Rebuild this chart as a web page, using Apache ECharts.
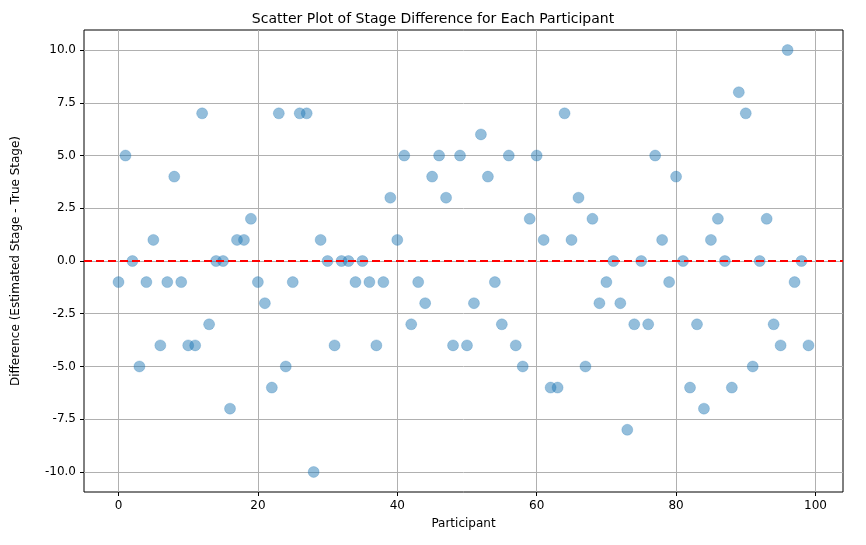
<!DOCTYPE html>
<html>
<head>
<meta charset="utf-8">
<style>html,body{margin:0;padding:0;width:866px;height:545px;background:#fff}#main{width:866px;height:545px}</style>
<script src="https://cdn.jsdelivr.net/npm/echarts@6/dist/echarts.min.js"></script>
</head>
<body>
<div id="main"></div>
<script>
var diffs = [-1,5,0,-5,-1,1,-4,-1,4,-1, -4,-4,7,-3,0,0,-7,1,1,2,
  -1,-2,-6,7,-5,-1,7,7,-10,1, 0,-4,0,0,-1,0,-1,-4,-1,3,
  1,5,-3,-1,-2,4,5,3,-4,5, -4,-2,6,4,-1,-3,5,-4,-5,2,
  5,1,-6,-6,7,1,3,-5,2,-2, -1,0,-2,-8,-3,0,-3,5,1,-1,
  4,0,-6,-3,-7,1,2,0,-6,8, 7,-5,0,2,-3,-4,10,-1,0,-4];
var xTicks = [0,20,40,60,80,100];
var yTicks = [-10,-7.5,-5,-2.5,0,2.5,5,7.5,10];

var data = diffs.map(function (v, i) { return [i, v]; });
var font = 'DejaVu Sans';
var chart = echarts.init(document.getElementById('main'));
chart.setOption({
  animation: false,
  textStyle: {fontFamily: font},
  title: {text: 'Scatter Plot of Stage Difference for Each Participant', left: 'center', top: 7,
    textStyle: {fontFamily: font, fontSize: 14, fontWeight: 'normal', color: '#000'}},
  grid: {left: 84, right: 23, top: 30, bottom: 53, show: true, borderColor: '#000', borderWidth: 1},
  xAxis: {type: 'value', min: -4.95, max: 103.95,
    name: 'Participant', nameLocation: 'middle', nameGap: 26,
    nameTextStyle: {fontFamily: font, fontSize: 12, color: '#000'},
    axisLine: {show: false, onZero: false},
    axisTick: {show: true, customValues: xTicks, length: 4, lineStyle: {color: '#000'}},
    axisLabel: {customValues: xTicks, color: '#000', fontSize: 12, fontFamily: font, margin: 8},
    splitLine: {show: true, lineStyle: {color: '#b0b0b0', width: 1}}},
  yAxis: {type: 'value', min: -10.95, max: 10.95,
    name: 'Difference (Estimated Stage - True Stage)', nameLocation: 'middle', nameGap: 62,
    nameTextStyle: {fontFamily: font, fontSize: 12, color: '#000'},
    axisLine: {show: false, onZero: false},
    axisTick: {show: true, customValues: yTicks, length: 4, lineStyle: {color: '#000'}},
    axisLabel: {customValues: yTicks, color: '#000', fontSize: 12, fontFamily: font, margin: 8,
      formatter: function (v) { return v.toFixed(1); }},
    splitLine: {show: true, lineStyle: {color: '#b0b0b0', width: 1}}},
  series: [{
    type: 'scatter', data: data, symbolSize: 11,
    itemStyle: {color: 'rgba(31,119,180,0.6)', borderColor: 'rgba(31,119,180,0.3)', borderWidth: 1},
    markLine: {silent: true, symbol: 'none', label: {show: false},
      lineStyle: {color: '#ff0000', type: [8, 4], width: 1.8},
      data: [{yAxis: 0}]}
  }]
});
</script>
</body>
</html>
